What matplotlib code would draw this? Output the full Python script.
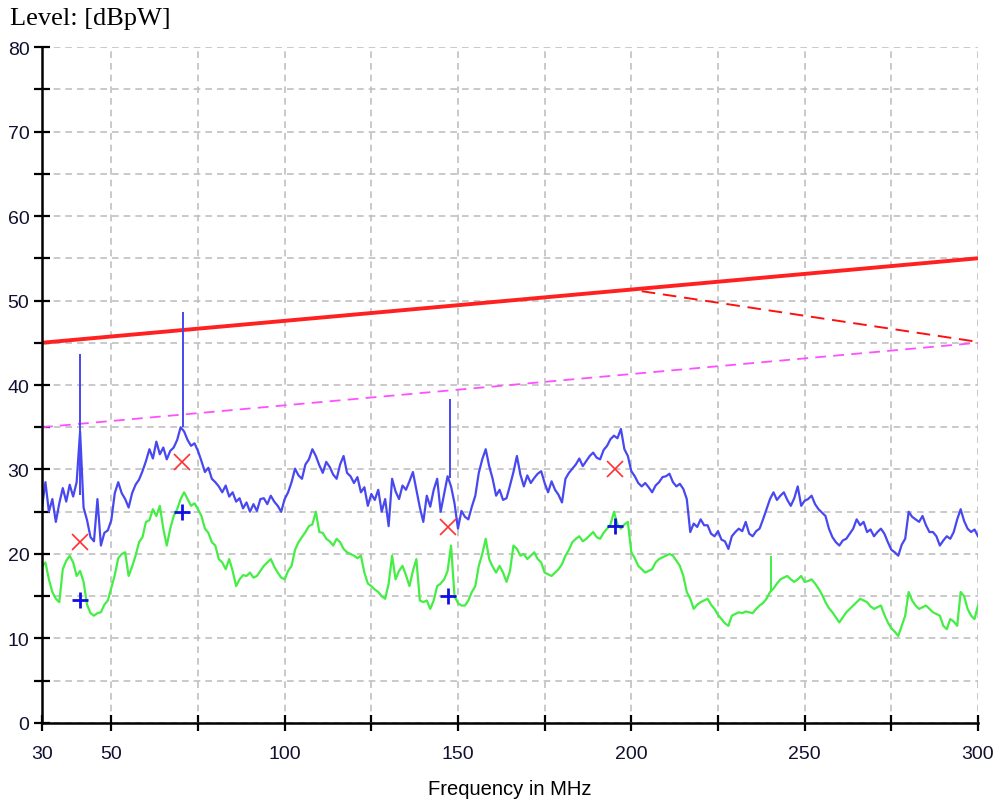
import numpy as np
import matplotlib
matplotlib.use('Agg')
import matplotlib.pyplot as plt

# frequency grid of the scan (MHz), one reading per MHz
freq = np.arange(30, 301, 1.0)

# peak detector trace (dBpW)
peak = [
    25.5, 28.5, 25.0, 26.5, 23.8, 26.0, 27.8, 26.2, 28.2, 26.8,   # 30-39
    28.5, 34.5, 25.5, 24.0, 22.0, 21.5, 26.5, 21.0, 22.5, 22.8,   # 40-49
    24.0, 27.2, 28.5, 27.2, 26.5, 25.5, 27.2, 28.2, 28.8, 29.8,   # 50-59
    31.0, 32.4, 31.3, 33.3, 31.8, 32.6, 31.2, 32.2, 32.6, 33.5,   # 60-69
    35.0, 34.5, 33.5, 32.8, 33.1, 32.2, 31.0, 29.7, 30.2, 28.9,   # 70-79
    28.5, 28.0, 27.3, 28.1, 26.8, 27.3, 26.2, 26.6, 25.4, 26.1,   # 80-89
    25.0, 25.9, 25.1, 26.5, 26.6, 25.9, 26.9, 26.2, 25.7, 25.0,   # 90-99
    26.5, 27.3, 28.5, 30.1, 29.3, 28.9, 30.6, 31.2, 32.4, 31.6,   # 100-109
    30.5, 29.6, 30.9, 30.3, 29.4, 28.9, 30.6, 31.6, 29.6, 29.2,   # 110-119
    28.4, 29.1, 27.3, 27.9, 25.7, 27.1, 26.4, 27.6, 25.0, 26.5,   # 120-129
    23.3, 28.9, 27.4, 26.5, 28.1, 27.6, 28.6, 29.7, 27.6, 25.5,   # 130-139
    23.8, 26.9, 25.6, 27.6, 28.9, 25.0, 27.1, 29.2, 28.0, 26.0,   # 140-149
    23.0, 25.1, 24.4, 24.1, 25.6, 26.9, 29.6, 31.2, 32.4, 30.4,   # 150-159
    28.9, 26.9, 27.6, 26.4, 26.6, 28.1, 29.7, 31.6, 29.4, 28.0,   # 160-169
    29.3, 28.4, 29.0, 29.5, 29.8, 28.4, 27.3, 28.6, 27.6, 27.0,   # 170-179
    26.1, 28.9, 29.6, 30.1, 30.6, 31.3, 30.4, 31.0, 31.6, 32.0,   # 180-189
    31.4, 31.2, 32.3, 32.8, 33.6, 34.0, 33.7, 34.8, 32.4, 31.6,   # 190-199
    29.8, 29.2, 28.4, 28.0, 28.4, 27.9, 27.3, 28.1, 28.5, 29.1,   # 200-209
    29.2, 29.5, 28.5, 28.0, 28.3, 27.7, 26.5, 22.6, 23.6, 23.2,   # 210-219
    24.1, 23.4, 23.4, 22.4, 22.1, 22.7, 21.7, 21.5, 20.6, 22.1,   # 220-229
    22.6, 23.0, 22.7, 23.8, 22.4, 22.1, 22.7, 23.0, 24.1, 25.3,   # 230-239
    26.5, 27.3, 26.4, 26.9, 27.3, 26.4, 25.7, 26.6, 28.0, 25.7,   # 240-249
    26.3, 26.5, 26.9, 25.9, 25.3, 24.9, 24.5, 23.0, 22.0, 21.4,   # 250-259
    21.0, 21.6, 21.8, 22.4, 23.0, 24.1, 23.4, 23.8, 22.6, 22.9,   # 260-269
    22.1, 22.6, 23.0, 22.4, 21.4, 20.5, 20.2, 19.8, 21.1, 21.8,   # 270-279
    25.0, 24.4, 24.1, 23.8, 24.5, 23.4, 22.6, 22.6, 22.1, 21.0,   # 280-289
    21.6, 22.1, 21.8, 22.6, 24.1, 25.3, 23.9, 23.0, 22.6, 22.9,   # 290-299
    22.1,
]

# average detector trace (dBpW)
average = [
    18.5, 19.0, 17.0, 15.5, 14.7, 14.3, 18.2, 19.2, 19.8, 19.0,   # 30-39
    17.4, 18.0, 16.7, 14.0, 13.0, 12.7, 13.0, 13.1, 14.0, 14.5,   # 40-49
    16.0, 17.5, 19.5, 20.0, 20.2, 17.4, 18.5, 19.8, 21.4, 22.0,   # 50-59
    23.8, 24.0, 25.3, 24.5, 25.7, 23.0, 21.0, 23.0, 24.5, 25.3,   # 60-69
    26.5, 27.3, 26.5, 25.7, 26.0, 25.3, 24.5, 23.0, 22.5, 21.4,   # 70-79
    21.0, 19.4, 19.0, 18.2, 19.4, 18.0, 16.2, 17.0, 17.5, 17.4,   # 80-89
    17.8, 17.2, 17.4, 18.0, 18.6, 19.0, 19.4, 18.5, 17.8, 17.2,   # 90-99
    17.0, 18.0, 18.6, 20.5, 21.4, 22.0, 22.6, 23.3, 23.5, 25.0,   # 100-109
    22.6, 22.5, 21.8, 21.5, 21.0, 21.8, 21.4, 20.6, 20.2, 20.0,   # 110-119
    19.8, 19.5, 19.8, 17.8, 16.5, 16.2, 15.8, 15.5, 15.0, 14.7,   # 120-129
    16.5, 19.8, 17.0, 18.0, 18.6, 17.5, 16.2, 18.0, 19.4, 14.5,   # 130-139
    14.3, 14.5, 13.5, 14.5, 16.2, 16.5, 17.0, 18.0, 21.0, 15.0,   # 140-149
    14.2, 13.9, 13.9, 14.5, 15.5, 16.2, 18.6, 20.0, 21.8, 19.4,   # 150-159
    18.5, 17.8, 18.6, 17.8, 16.7, 18.0, 21.0, 20.6, 19.8, 20.0,   # 160-169
    19.4, 19.8, 20.2, 19.4, 19.0, 17.8, 17.6, 17.4, 17.8, 18.2,   # 170-179
    18.8, 19.8, 20.5, 21.4, 21.8, 22.1, 21.5, 21.8, 22.2, 22.6,   # 180-189
    22.0, 21.8, 22.5, 23.0, 23.5, 25.0, 23.5, 23.0, 23.5, 23.8,   # 190-199
    20.2, 19.5, 18.6, 18.2, 17.8, 18.0, 18.2, 19.0, 19.4, 19.6,   # 200-209
    19.8, 20.0, 19.8, 19.2, 18.6, 17.4, 15.5, 14.7, 13.5, 14.0,   # 210-219
    14.3, 14.5, 14.7, 14.0, 13.5, 12.8, 12.3, 11.8, 11.5, 12.7,   # 220-229
    12.9, 13.1, 13.0, 13.2, 13.1, 13.0, 13.5, 13.9, 14.2, 14.7,   # 230-239
    15.5, 15.9, 16.5, 17.0, 17.2, 17.4, 17.0, 16.7, 17.0, 17.4,   # 240-249
    16.7, 16.8, 17.0, 16.5, 15.9, 15.2, 14.3, 13.6, 13.1, 12.5,   # 250-259
    11.9, 12.5, 13.1, 13.5, 13.9, 14.3, 14.7, 14.5, 14.3, 13.8,   # 260-269
    13.5, 13.7, 13.9, 12.8, 11.9, 11.2, 10.8, 10.3, 11.5, 12.7,   # 270-279
    15.5, 14.5, 13.9, 13.5, 13.7, 13.9, 13.5, 13.1, 12.9, 12.7,   # 280-289
    11.5, 11.1, 12.3, 12.0, 11.5, 15.5, 15.0, 13.5, 12.7, 12.3,   # 290-299
    13.9,
]

# narrow carrier spikes on the peak trace
spike_freq = [41.0, 70.8, 147.7]
spike_base = [27.0, 35.0, 29.0]
spike_top = [43.7, 48.6, 38.3]
# narrow spike on the average trace
avg_spike_freq = [240.2]
avg_spike_base = [15.5]
avg_spike_top = [19.8]

# limit lines
limit_freq = [30, 300]
limit_qp = [45, 55]
limit_av = [35, 45]
limit2_freq = [203, 300]
limit2_qp = [51.1, 45.1]

# final measurement markers
final_freq = [41.0, 70.3, 147.2, 195.3]
final_qp = [21.4, 30.9, 23.2, 30.1]
final_av = [14.5, 25.0, 15.0, 23.3]

fig = plt.figure(figsize=(10.04, 8.03), dpi=100)
ax = fig.add_axes([0.0418, 0.0984, 0.9323, 0.8418])

grid_style = dict(color='#c0c0c0', linestyle=(0, (4, 3)), linewidth=1.2)
ax.grid(True, **grid_style)
ax.set_axisbelow(True)

ax.plot(limit_freq, limit_qp, color='#ff2020', lw=2.8, solid_capstyle='butt')
ax.plot(limit2_freq, limit2_qp, color='#ff1010', lw=1.4, linestyle=(0, (7, 4)))
ax.plot(limit_freq, limit_av, color='#ff50ff', lw=1.3, linestyle=(0, (6, 4)))

ax.plot(freq, peak, color='#4848f0', lw=1.6)
ax.vlines(spike_freq, spike_base, spike_top, color='#4848f0', lw=1.4)
ax.plot(freq, average, color='#44ee44', lw=1.6)
ax.vlines(avg_spike_freq, avg_spike_base, avg_spike_top, color='#44ee44', lw=1.4)

ax.plot(final_freq, final_qp, linestyle='none', marker='x', ms=11, mew=1.2,
        color='#ff3030')
ax.plot(final_freq, final_av, linestyle='none', marker='+', ms=12, mew=2.0,
        color='#1010e0')

ax.set_xlim(30, 300)
ax.set_ylim(0, 80)

xticks = [30, 50, 75, 100, 125, 150, 175, 200, 225, 250, 275, 300]
xlabels = ['30', '50', '', '100', '', '150', '', '200', '', '250', '', '300']
ax.set_xticks(xticks)
ax.set_xticklabels(xlabels)
yticks = list(range(0, 81, 5))
ylabels = [str(v) if v % 10 == 0 else '' for v in yticks]
ax.set_yticks(yticks)
ax.set_yticklabels(ylabels)

tick_font = 'Liberation Sans'
for lab in ax.get_xticklabels() + ax.get_yticklabels():
    lab.set_fontfamily(tick_font)
    lab.set_fontsize(14)
    lab.set_color('#101030')

ax.tick_params(axis='both', direction='inout', length=12, width=1.6,
               color='black')
ax.tick_params(axis='x', pad=10)
ax.tick_params(axis='y', pad=3)

for side in ['left', 'bottom']:
    ax.spines[side].set_linewidth(1.8)
    ax.spines[side].set_color('black')
for side in ['top', 'right']:
    ax.spines[side].set_visible(False)

ax.set_xlabel('Frequency in MHz', fontfamily=tick_font, fontsize=14.5,
              labelpad=12)
fig.text(0.01, 0.969, 'Level: [dBpW]', fontfamily='Liberation Serif',
         fontsize=19, va='baseline', ha='left')

fig.savefig('out.png', dpi=100)
